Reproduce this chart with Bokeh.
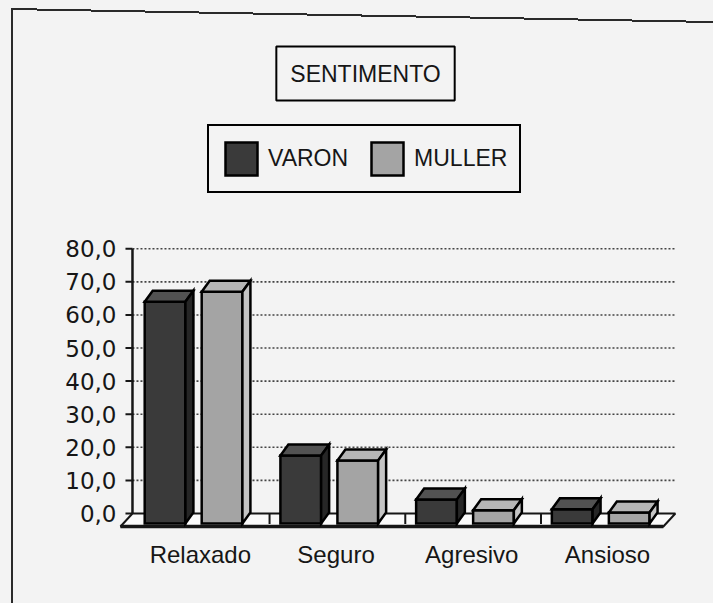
from bokeh.plotting import figure
from bokeh.models import FixedTicker, Label, Legend, LegendItem
from bokeh.embed import file_html
from bokeh.resources import INLINE

# ---- data ----
categories = ["Relaxado", "Seguro", "Agresivo", "Ansioso"]
varon = [67.0, 20.5, 7.2, 4.3]
muller = [70.0, 19.0, 4.0, 3.3]
series_names = ["VARON", "MULLER"]
y_ticks = [0, 10, 20, 30, 40, 50, 60, 70, 80]
y_tick_labels = ["0,0", "10,0", "20,0", "30,0", "40,0", "50,0", "60,0", "70,0", "80,0"]
chart_title = "SENTIMENTO"

# ---- styling ----
BG = "#f3f3f3"
INK = "#161616"
PX_X = 135.7   # px per category
PX_Y = 3.31    # px per value unit

p = figure(width=713, height=603, x_range=(-0.103, 4.281), y_range=(-4.83, 155.0),
           output_backend="svg", toolbar_location=None, title=None,
           min_border_left=118, min_border_right=0, min_border_top=0, min_border_bottom=74)
p.xgrid.visible = False
p.ygrid.visible = False
p.outline_line_color = None
p.background_fill_alpha = 0.0
p.border_fill_alpha = 0.0
# scanned page: background plus the left and (slightly skewed) top edges of its box
p.styles = {
    "background": ("linear-gradient(181.06deg, transparent 21px, #2a2a2a 21px, #2a2a2a 23px, "
                   "transparent 23px) 12px 0 / 701px 40px no-repeat, "
                   "linear-gradient(#2a2a2a, #2a2a2a) 11px 8px / 2px 600px no-repeat, " + BG)
}

# y axis: labels only (line and ticks drawn on the back wall below)
p.yaxis.ticker = FixedTicker(ticks=y_ticks)
p.yaxis.major_label_overrides = dict(zip(y_ticks, y_tick_labels))
p.yaxis.axis_line_color = None
p.yaxis.major_tick_line_color = None
p.yaxis.minor_tick_line_color = None
p.yaxis.major_tick_out = 0
p.yaxis.major_tick_in = 0
p.yaxis.major_label_standoff = 2
p.yaxis.major_label_text_font = "DejaVu Sans"
p.yaxis.major_label_text_font_size = "23px"
p.yaxis.major_label_text_color = INK

# x axis: category names
x_centers = [i + 0.5 for i in range(len(categories))]
p.xaxis.ticker = FixedTicker(ticks=x_centers)
p.xaxis.major_label_overrides = dict(zip(x_centers, categories))
p.xaxis.axis_line_color = None
p.xaxis.major_tick_line_color = None
p.xaxis.minor_tick_line_color = None
p.xaxis.major_tick_out = 0
p.xaxis.major_tick_in = 0
p.xaxis.major_label_standoff = 11
p.xaxis.major_label_text_font = "Liberation Sans"
p.xaxis.major_label_text_font_size = "24px"
p.xaxis.major_label_text_color = INK

n = len(categories)
wall_right = float(n)
fdx = 12 / PX_X
fdy = 13 / PX_Y

# gridlines on back wall
grid_levels = y_ticks[1:]
p.segment(x0=[0.0] * len(grid_levels), y0=grid_levels, x1=[wall_right] * len(grid_levels),
          y1=grid_levels, line_color="#444444", line_width=1.6, line_dash="2 2")

# floor
p.patch([-fdx, wall_right - fdx, wall_right, 0.0], [-fdy, -fdy, 0.0, 0.0],
        fill_color="#fafafa", line_color=INK, line_width=2)
p.line([-fdx, wall_right - fdx], [-fdy, -fdy], line_color=INK, line_width=3.5)
p.segment(x0=[i + 0.01 for i in range(1, n)], y0=[-3.2] * (n - 1),
          x1=[i + 0.01 for i in range(1, n)], y1=[0.0] * (n - 1), line_color=INK, line_width=2)

# y axis line and ticks
p.segment(x0=[0.0], y0=[y_ticks[0]], x1=[0.0], y1=[y_ticks[-1]], line_color=INK, line_width=2.5)
p.segment(x0=[-7 / PX_X] * len(y_ticks), y0=y_ticks, x1=[0.0] * len(y_ticks), y1=y_ticks,
          line_color=INK, line_width=2)

# 3D bars
ddx = 8 / PX_X
ddy = 11 / PX_Y
y_front = -3.0
bar_w = 0.30
offsets = [0.09, 0.51]
colors = [
    dict(front="#3a3a3a", top="#525252", side="#262626"),
    dict(front="#a4a4a4", top="#b6b6b6", side="#c4c4c4"),
]
legend_renderers = []
for s, vals in enumerate([varon, muller]):
    fx, fy, tx, ty, sx, sy = [], [], [], [], [], []
    for i, v in enumerate(vals):
        x0 = i + offsets[s]
        x1 = x0 + bar_w
        yt = y_front + v
        fx.append([x0, x1, x1, x0]); fy.append([y_front, y_front, yt, yt])
        tx.append([x0, x1, x1 + ddx, x0 + ddx]); ty.append([yt, yt, yt + ddy, yt + ddy])
        sx.append([x1, x1 + ddx, x1 + ddx, x1]); sy.append([y_front, y_front + ddy, yt + ddy, yt])
    c = colors[s]
    r = p.patches(fx, fy, fill_color=c["front"], line_color="black", line_width=2.5, line_join="miter")
    p.patches(tx, ty, fill_color=c["top"], line_color="black", line_width=2.5, line_join="miter")
    p.patches(sx, sy, fill_color=c["side"], line_color="black", line_width=2.5, line_join="miter")
    legend_renderers.append(r)

legend = Legend(items=[LegendItem(label=series_names[k], renderers=[legend_renderers[k]]) for k in range(2)],
                location=(89, 336), orientation="horizontal",
                glyph_width=40, glyph_height=41, label_standoff=7, spacing=19, padding=12, margin=0,
                border_line_color="black", border_line_width=2, border_line_alpha=1.0,
                background_fill_color=BG, background_fill_alpha=1.0,
                label_text_font="Liberation Sans", label_text_font_size="23px",
                label_text_color=INK)
p.add_layout(legend)

title_label = Label(x=(365 - 132) / PX_X, y=(513 - 73) / PX_Y, text=chart_title,
                    text_align="center", text_baseline="middle",
                    text_font="Liberation Sans", text_font_size="23px", text_color=INK,
                    border_line_color="black", border_line_width=2,
                    background_fill_color=BG, background_fill_alpha=1.0,
                    padding=dict(left=14, right=14, top=14, bottom=14))
p.add_layout(title_label)

open("out.html", "w").write(file_html(p, INLINE))
